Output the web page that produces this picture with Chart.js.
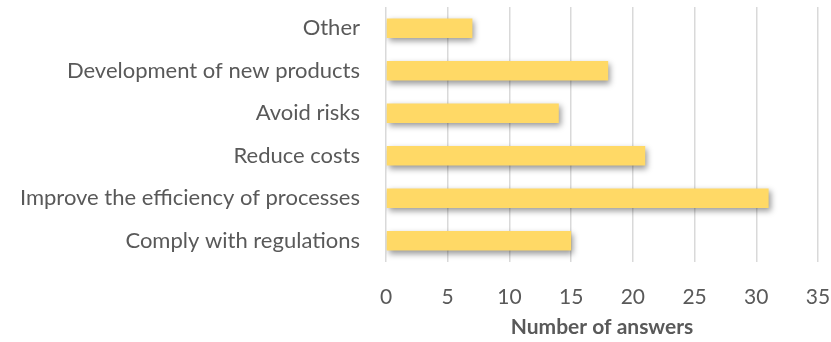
<!DOCTYPE html>
<html>
<head>
<meta charset="utf-8">
<script src="https://cdn.jsdelivr.net/npm/chart.js@4/dist/chart.umd.min.js"></script>
<style>
  html, body { margin: 0; padding: 0; background: #fff; }
  #wrap { width: 831px; height: 342px; }
</style>
</head>
<body>
<div id="wrap"><canvas id="myChart"></canvas></div>
<script>
var categories = [
  "Other",
  "Development of new products",
  "Avoid risks",
  "Reduce costs",
  "Improve the efficiency of processes",
  "Comply with regulations"
];
var answers = [7, 18, 14, 21, 31, 15];
var xTicks = [0, 5, 10, 15, 20, 25, 30, 35];

// soft drop shadow under the bars, like the office chart
var barShadow = {
  id: "barShadow",
  beforeDatasetDraw: function(chart) {
    var c = chart.ctx;
    c.save();
    c.shadowColor = "rgba(0,0,0,0.4)";
    c.shadowBlur = 6;
    c.shadowOffsetX = 2;
    c.shadowOffsetY = 3;
  },
  afterDatasetDraw: function(chart) {
    chart.ctx.restore();
  }
};

var ctx = document.getElementById("myChart");
var myChart = new Chart(ctx, {
  type: "bar",
  data: {
    labels: categories,
    datasets: [
      {
        label: "Number of answers",
        data: answers,
        backgroundColor: "#FFD966",
        borderWidth: 0,
        barPercentage: 0.46,
        categoryPercentage: 1
      }
    ]
  },
  plugins: [barShadow],
  options: {
    indexAxis: "y",
    responsive: true,
    maintainAspectRatio: false,
    animation: false,
    layout: { padding: { top: 7, right: 0, left: 0, bottom: 2 } },
    plugins: {
      legend: { display: false },
      tooltip: { enabled: false }
    },
    scales: {
      x: {
        min: 0,
        max: 35,
        afterBuildTicks: function(scale) {
          scale.ticks = xTicks.map(function(v) { return { value: v }; });
        },
        afterFit: function(scale) {
          scale.height = 78;
          scale.paddingLeft = 0;
          scale.paddingRight = 13;
        },
        grid: { color: "#d9d9d9", lineWidth: 1.5, drawTicks: false },
        border: { display: false },
        ticks: {
          color: "#595959",
          padding: 23,
          font: { family: "Lato", size: 21 }
        },
        title: {
          display: true,
          text: "Number of answers",
          color: "#595959",
          padding: { top: 3, bottom: 0 },
          font: { family: "Lato", size: 21, weight: "bold" }
        }
      },
      y: {
        afterFit: function(scale) {
          scale.width = 386;
          scale.paddingTop = 0;
          scale.paddingBottom = 0;
        },
        grid: { display: false, drawTicks: false },
        border: { display: false },
        ticks: {
          color: "#595959",
          padding: 26,
          font: { family: "Lato", size: 22 }
        }
      }
    }
  }
});
</script>
</body>
</html>
